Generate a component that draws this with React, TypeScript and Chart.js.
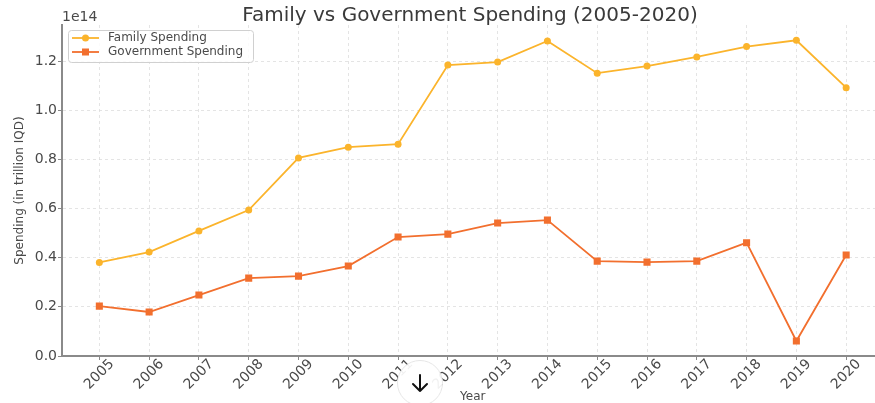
import React, { useEffect, useRef } from "react";
import { Chart, registerables } from "chart.js";

Chart.register(...registerables);

const years = [2005, 2006, 2007, 2008, 2009, 2010, 2011, 2012, 2013, 2014, 2015, 2016, 2017, 2018, 2019, 2020];
const familySpending = [3.81e13, 4.23e13, 5.09e13, 5.94e13, 8.06e13, 8.5e13, 8.62e13, 11.84e13, 11.96e13, 12.82e13, 11.51e13, 11.8e13, 12.17e13, 12.59e13, 12.85e13, 10.92e13];
const governmentSpending = [2.03e13, 1.79e13, 2.48e13, 3.17e13, 3.25e13, 3.66e13, 4.84e13, 4.96e13, 5.41e13, 5.53e13, 3.86e13, 3.82e13, 3.86e13, 4.61e13, 0.61e13, 4.11e13];
const yTicks = [0, 0.2e14, 0.4e14, 0.6e14, 0.8e14, 1.0e14, 1.2e14];

const FAMILY_COLOR = "#FBB42C";
const GOV_COLOR = "#F26F2E";
const TEXT_COLOR = "#4a4a4a";
const FONT = "'DejaVu Sans', sans-serif";

const overlayPlugin = {
  id: "overlayText",
  afterDraw(chart: any) {
    const ctx = chart.ctx;
    const xs = chart.scales.x;
    const area = chart.chartArea;
    ctx.save();
    // title
    ctx.fillStyle = "#3a3a3a";
    ctx.font = `20px ${FONT}`;
    ctx.textAlign = "center";
    ctx.textBaseline = "alphabetic";
    ctx.fillText("Family vs Government Spending (2005-2020)", 470, 21);
    // offset text
    ctx.fillStyle = TEXT_COLOR;
    ctx.font = `14px ${FONT}`;
    ctx.textAlign = "left";
    ctx.textBaseline = "middle";
    ctx.fillText("1e14", area.left, 17.5);
    // x tick labels
    ctx.font = `14px ${FONT}`;
    ctx.textAlign = "center";
    ctx.textBaseline = "middle";
    years.forEach((yr) => {
      const px = xs.getPixelForValue(yr);
      ctx.save();
      ctx.translate(px, area.bottom + 18.5);
      ctx.rotate(-Math.PI / 4);
      ctx.fillText(String(yr), 0, 0);
      ctx.restore();
    });
    // axis titles
    ctx.font = `12px ${FONT}`;
    ctx.fillText("Year", (area.left + area.right) / 2, 396.5);
    ctx.save();
    ctx.translate(20, (area.top + area.bottom) / 2);
    ctx.rotate(-Math.PI / 2);
    ctx.fillText("Spending (in trillion IQD)", 0, 0);
    ctx.restore();
    // legend
    const lx = 68, ly = 30, lw = 185, lh = 32;
    ctx.fillStyle = "rgba(255,255,255,0.85)";
    ctx.strokeStyle = "#d0d0d0";
    ctx.lineWidth = 1;
    ctx.beginPath();
    (ctx as any).roundRect(lx + 0.5, ly + 0.5, lw, lh, 3);
    ctx.fill();
    ctx.stroke();
    const entries = [
      { label: "Family Spending", color: FAMILY_COLOR, style: "circle", y: 38 },
      { label: "Government Spending", color: GOV_COLOR, style: "rect", y: 52 },
    ];
    entries.forEach((e) => {
      ctx.strokeStyle = e.color;
      ctx.fillStyle = e.color;
      ctx.lineWidth = 1.8;
      ctx.beginPath();
      ctx.moveTo(72, e.y);
      ctx.lineTo(99, e.y);
      ctx.stroke();
      if (e.style === "circle") {
        ctx.beginPath();
        ctx.arc(85.5, e.y, 3.5, 0, Math.PI * 2);
        ctx.fill();
      } else {
        ctx.fillRect(82, e.y - 3.5, 7, 7);
      }
      ctx.fillStyle = TEXT_COLOR;
      ctx.font = `12px ${FONT}`;
      ctx.textAlign = "left";
      ctx.textBaseline = "middle";
      ctx.fillText(e.label, 108, e.y);
    });
    ctx.restore();
  },
};

export default function App() {
  const canvasRef = useRef<HTMLCanvasElement | null>(null);

  useEffect(() => {
    document.body.style.margin = "0";
    const canvas = canvasRef.current;
    if (!canvas) return;
    const chart = new Chart(canvas, {
      type: "line",
      data: {
        datasets: [
          {
            label: "Family Spending",
            data: years.map((y, i) => ({ x: y, y: familySpending[i] })),
            borderColor: FAMILY_COLOR,
            backgroundColor: FAMILY_COLOR,
            borderWidth: 1.8,
            pointStyle: "circle",
            pointRadius: 3.5,
            pointBorderWidth: 0,
            tension: 0,
          },
          {
            label: "Government Spending",
            data: years.map((y, i) => ({ x: y, y: governmentSpending[i] })),
            borderColor: GOV_COLOR,
            backgroundColor: GOV_COLOR,
            borderWidth: 1.8,
            pointStyle: "rect",
            pointRadius: 5,
            pointBorderWidth: 0,
            tension: 0,
          },
        ],
      },
      options: {
        responsive: false,
        animation: false,
        layout: { padding: { top: 25, right: 6.5, left: 0, bottom: 0 } },
        plugins: {
          legend: { display: false },
          title: { display: false },
          tooltip: { enabled: false },
        },
        scales: {
          x: {
            type: "linear",
            min: 2004.25,
            max: 2020.75,
            afterBuildTicks: (scale: any) => {
              scale.ticks = years.map((v) => ({ value: v }));
            },
            afterFit: (scale: any) => {
              scale.height = 47;
            },
            ticks: { display: false },
            grid: {
              color: "#dedede",
              lineWidth: 0.8,
              drawTicks: true,
              tickLength: 4,
              tickColor: "#888",
              tickWidth: 1,
              tickBorderDash: [],
            },
            border: { display: true, color: "#8a8a8a", width: 2, dash: [3, 3] },
          },
          y: {
            type: "linear",
            min: 0,
            max: 1.347e14,
            afterBuildTicks: (scale: any) => {
              scale.ticks = yTicks.map((v) => ({ value: v }));
            },
            afterFit: (scale: any) => {
              scale.width = 62;
            },
            ticks: {
              padding: 1,
              color: TEXT_COLOR,
              font: { family: FONT, size: 14 },
              callback: (v: any) => (Number(v) / 1e14).toFixed(1),
            },
            grid: {
              color: "#dedede",
              lineWidth: 0.8,
              drawTicks: true,
              tickLength: 4,
              tickColor: "#888",
              tickWidth: 1,
              tickBorderDash: [],
            },
            border: { display: true, color: "#8a8a8a", width: 2, dash: [3, 3] },
          },
        },
      },
      plugins: [overlayPlugin],
    } as any);
    return () => chart.destroy();
  }, []);

  return (
    <div style={{ position: "fixed", left: 0, top: 0, width: 875, height: 403, overflow: "hidden", background: "#fff" }}>
      <canvas ref={canvasRef} width={890} height={403} style={{ display: "block" }} />
      <div
        style={{
          position: "absolute",
          left: 397,
          top: 360,
          width: 46,
          height: 46,
          borderRadius: "50%",
          background: "rgba(255,255,255,0.92)",
          border: "1px solid #e6e6e6",
          boxSizing: "border-box",
          display: "flex",
          alignItems: "center",
          justifyContent: "center",
        }}
      >
        <svg width="20" height="20" viewBox="-10 -10 20 20">
          <path d="M0 -8 L0 8 M-7 1 L0 8 L7 1" stroke="#111" strokeWidth="2" fill="none" strokeLinecap="round" strokeLinejoin="round" />
        </svg>
      </div>
    </div>
  );
}
